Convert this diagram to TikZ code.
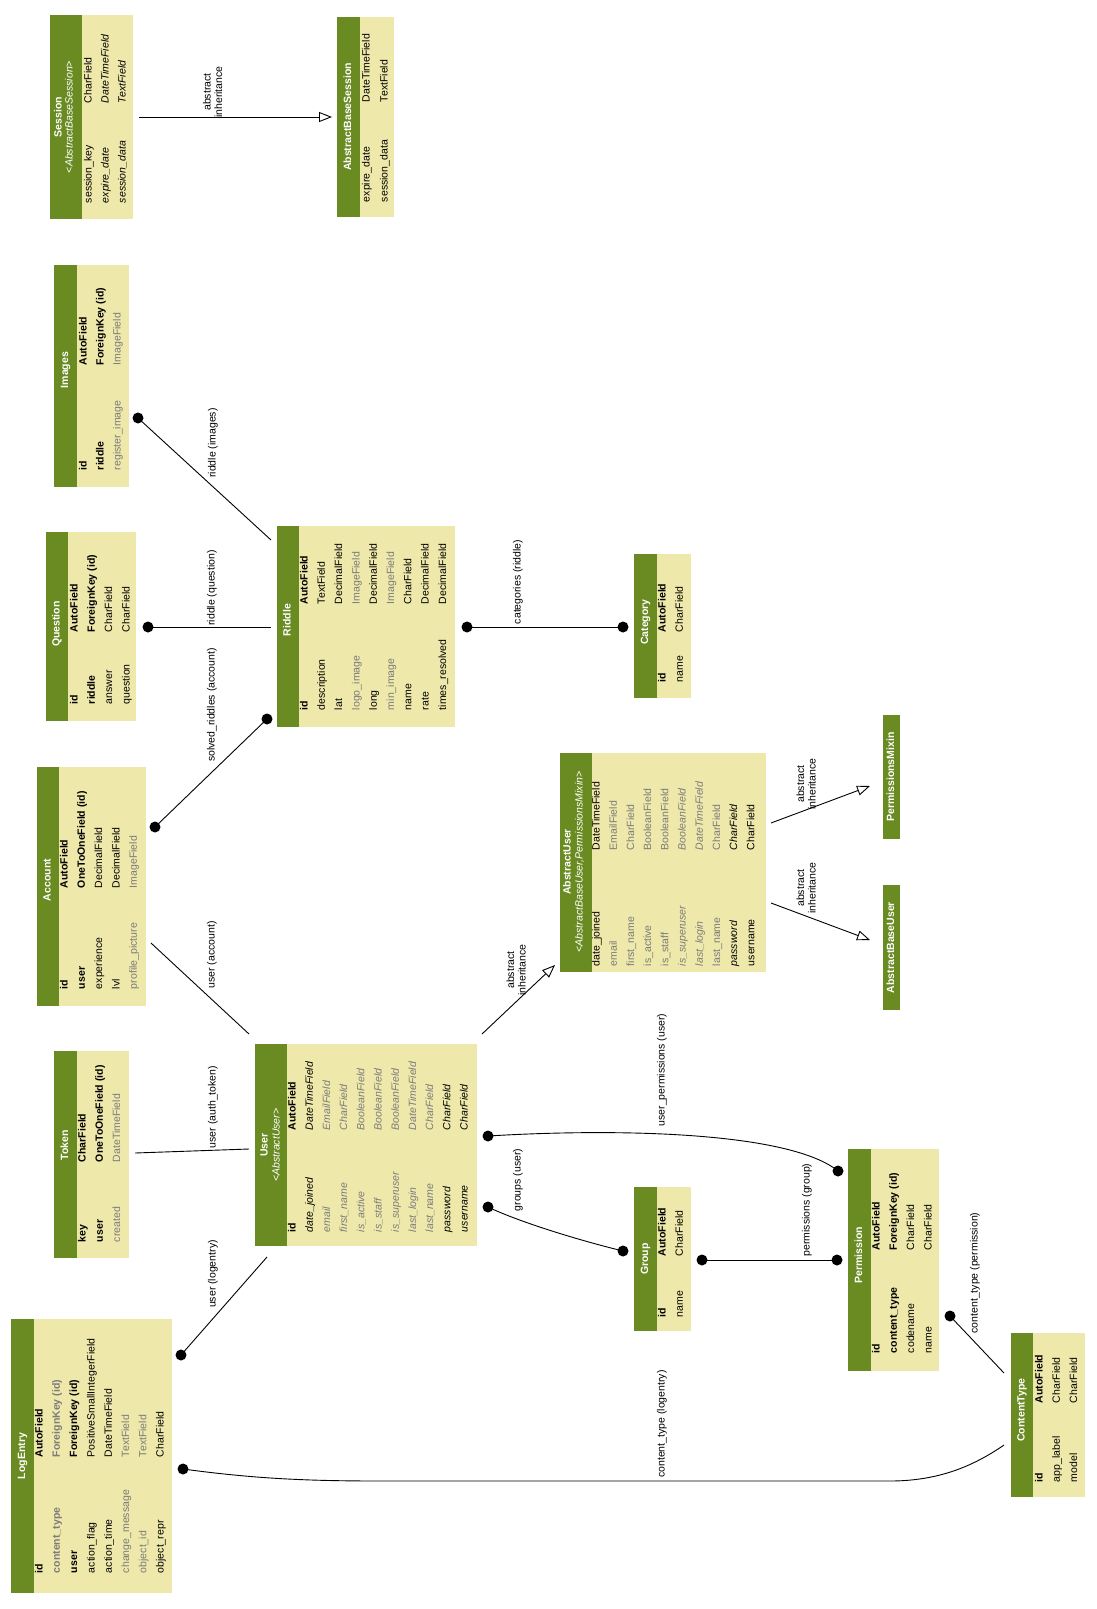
\documentclass[tikz,border=0pt]{standalone}
\usepackage{fontspec}
\setmainfont{Liberation Sans}
\usetikzlibrary{arrows.meta}
\definecolor{hdr}{HTML}{698B22}
\definecolor{bdy}{HTML}{EEE8AA}
\definecolor{gtx}{HTML}{7B7B7B}
\newcommand\fs{\fontsize{10.5}{11.5}\selectfont}
\tikzset{
  fl/.style={rotate=90, anchor=west, inner sep=0pt, outer sep=0pt, text height=7.6pt, text depth=2.4pt},
  tn/.style={font=\fs},
  tb/.style={font=\fs\bfseries},
  tg/.style={font=\fs, text=gtx},
  tgb/.style={font=\fs\bfseries, text=gtx},
  ti/.style={font=\fs\itshape},
  tgi/.style={font=\fs\itshape, text=gtx},
  ttl/.style={rotate=90, inner sep=0pt, text=white, font=\fs\bfseries, text height=7.6pt, text depth=2.4pt},
  sttl/.style={rotate=90, inner sep=0pt, text=white, font=\fs\itshape, text height=7.6pt, text depth=2.4pt},
  lbl/.style={rotate=90, inner sep=0pt, align=center, font=\fs},
  edge/.style={line width=0.9pt, black},
  inh/.style={line width=0.9pt, black, -{Triangle[open, length=13pt, width=10pt, line width=0.9pt]}},
  bodybox/.style={fill=bdy, draw=none, inner sep=0pt, outer sep=0pt}
}
% name, x0, y0, x1, y1, header right edge
\newcommand\mtable[6]{%
  \node[bodybox, minimum width={(#4-#2)*1pt}, minimum height={(#5-#3)*1pt}] (#1) at ({(#2+#4)/2},{(#3+#5)/2}) {};
  \fill[hdr] (#2,#3) rectangle (#6,#5);}
% style, x, yname, ytype, name, type
\newcommand\fieldrow[6]{%
  \node[fl,#1] at (#2,#3) {#5};
  \node[fl,#1] at (#2,#4) {#6};}
\newcommand\edot[1]{\fill[black] (#1) circle[radius=5.5pt];}
\begin{document}
\begin{tikzpicture}[x=1pt,y=-1pt]
\fill[white] (0,0) rectangle (1096,1609);
\useasboundingbox (0,0) rectangle (1096,1609);

% ---------- LogEntry
\mtable{logentry}{11}{1319}{172}{1593}{34}
\node[ttl] (logentryT) at (22.5,1456) {LogEntry};
\fieldrow{tb}{40}{1573}{1457}{id}{AutoField}
\fieldrow{tgb}{57.3}{1573}{1457}{content\_type}{ForeignKey (id)}
\fieldrow{tb}{74.6}{1573}{1457}{user}{ForeignKey (id)}
\fieldrow{tn}{91.9}{1573}{1457}{action\_flag}{PositiveSmallIntegerField}
\fieldrow{tn}{109.2}{1573}{1457}{action\_time}{DateTimeField}
\fieldrow{tg}{126.5}{1573}{1457}{change\_message}{TextField}
\fieldrow{tg}{143.8}{1573}{1457}{object\_id}{TextField}
\fieldrow{tn}{161.1}{1573}{1457}{object\_repr}{CharField}

% ---------- Session
\mtable{session}{50}{15}{133}{219}{82}
\node[ttl] (sessionT) at (59,117) {Session};
\node[sttl] (sessionS) at (70,117) {<AbstractBaseSession>};
\fieldrow{tn}{89}{203}{103}{session\_key}{CharField}
\fieldrow{ti}{106}{203}{103}{expire\_date}{DateTimeField}
\fieldrow{ti}{123}{203}{103}{session\_data}{TextField}

% ---------- AbstractBaseSession
\mtable{abstractsession}{337}{17}{394}{217}{360}
\node[ttl] (abstractsessionT) at (348.5,117) {AbstractBaseSession};
\fieldrow{tn}{367}{202}{102}{expire\_date}{DateTimeField}
\fieldrow{tn}{385}{202}{102}{session\_data}{TextField}

% ---------- Images
\mtable{images}{54}{265}{129}{487}{77}
\node[ttl] (imagesT) at (65.5,370) {Images};
\fieldrow{tb}{84}{470}{365}{id}{AutoField}
\fieldrow{tb}{101}{470}{365}{riddle}{ForeignKey (id)}
\fieldrow{tg}{118}{470}{365}{register\_image}{ImageField}

% ---------- Question
\mtable{question}{46}{532}{136}{721}{68}
\node[ttl] (questionT) at (57,624) {Question};
\fieldrow{tb}{75}{704}{632}{id}{AutoField}
\fieldrow{tb}{92.3}{704}{632}{riddle}{ForeignKey (id)}
\fieldrow{tn}{109.6}{704}{632}{answer}{CharField}
\fieldrow{tn}{126.9}{704}{632}{question}{CharField}

% ---------- Riddle
\mtable{riddle}{277}{526}{455}{727}{299}
\node[ttl] (riddleT) at (288,620) {Riddle};
\fieldrow{tb}{305}{710}{604}{id}{AutoField}
\fieldrow{tn}{322.3}{710}{604}{description}{TextField}
\fieldrow{tn}{339.6}{710}{604}{lat}{DecimalField}
\fieldrow{tg}{356.9}{710}{604}{logo\_image}{ImageField}
\fieldrow{tn}{374.2}{710}{604}{long}{DecimalField}
\fieldrow{tg}{391.5}{710}{604}{min\_image}{ImageField}
\fieldrow{tn}{408.8}{710}{604}{name}{CharField}
\fieldrow{tn}{426.1}{710}{604}{rate}{DecimalField}
\fieldrow{tn}{443.4}{710}{604}{times\_resolved}{DecimalField}

% ---------- Category
\mtable{category}{634}{554}{691}{698}{657}
\node[ttl] (categoryT) at (645.5,622) {Category};
\fieldrow{tb}{663}{682}{632}{id}{AutoField}
\fieldrow{tn}{680.3}{682}{632}{name}{CharField}

% ---------- Account
\mtable{account}{37}{767}{146}{1006}{59}
\node[ttl] (accountT) at (48,880) {Account};
\fieldrow{tb}{65}{989}{888}{id}{AutoField}
\fieldrow{tb}{82.3}{989}{888}{user}{OneToOneField (id)}
\fieldrow{tn}{99.6}{989}{888}{experience}{DecimalField}
\fieldrow{tn}{116.9}{989}{888}{lvl}{DecimalField}
\fieldrow{tg}{134.2}{989}{888}{profile\_picture}{ImageField}

% ---------- Token
\mtable{token}{54}{1051}{129}{1258}{77}
\node[ttl] (tokenT) at (65.5,1145) {Token};
\fieldrow{tb}{83}{1242}{1162}{key}{CharField}
\fieldrow{tb}{100.3}{1242}{1162}{user}{OneToOneField (id)}
\fieldrow{tg}{117.6}{1242}{1162}{created}{DateTimeField}

% ---------- User
\mtable{user}{255}{1044}{477}{1246}{287}
\node[ttl] (userT) at (265,1145) {User};
\node[sttl] (userS) at (277,1145) {<AbstractUser>};
\fieldrow{tb}{293}{1232}{1130}{id}{AutoField}
\fieldrow{ti}{310.2}{1232}{1130}{date\_joined}{DateTimeField}
\fieldrow{tgi}{327.4}{1232}{1130}{email}{EmailField}
\fieldrow{tgi}{344.6}{1232}{1130}{first\_name}{CharField}
\fieldrow{tgi}{361.8}{1232}{1130}{is\_active}{BooleanField}
\fieldrow{tgi}{379}{1232}{1130}{is\_staff}{BooleanField}
\fieldrow{tgi}{396.2}{1232}{1130}{is\_superuser}{BooleanField}
\fieldrow{tgi}{413.4}{1232}{1130}{last\_login}{DateTimeField}
\fieldrow{tgi}{430.6}{1232}{1130}{last\_name}{CharField}
\fieldrow{ti}{447.8}{1232}{1130}{password}{CharField}
\fieldrow{ti}{465}{1232}{1130}{username}{CharField}

% ---------- AbstractUser
\mtable{abstractuser}{560}{753}{766}{972}{592}
\node[ttl] (abstractuserT) at (568,862) {AbstractUser};
\node[sttl] (abstractuserS) at (580,862) {<AbstractBaseUser,PermissionsMixin>};
\fieldrow{tn}{597}{966}{850}{date\_joined}{DateTimeField}
\fieldrow{tg}{614.2}{966}{850}{email}{EmailField}
\fieldrow{tg}{631.4}{966}{850}{first\_name}{CharField}
\fieldrow{tg}{648.6}{966}{850}{is\_active}{BooleanField}
\fieldrow{tg}{665.8}{966}{850}{is\_staff}{BooleanField}
\fieldrow{tgi}{683}{966}{850}{is\_superuser}{BooleanField}
\fieldrow{tgi}{700.2}{966}{850}{last\_login}{DateTimeField}
\fieldrow{tg}{717.4}{966}{850}{last\_name}{CharField}
\fieldrow{ti}{734.6}{966}{850}{password}{CharField}
\fieldrow{tn}{751.8}{966}{850}{username}{CharField}

% ---------- PermissionsMixin / AbstractBaseUser
\mtable{permmixin}{883}{715}{900}{839}{900}
\node[ttl] (permmixinT) at (891.5,777) {PermissionsMixin};
\mtable{abstractbaseuser}{883}{885}{900}{1010}{900}
\node[ttl] (abstractbaseuserT) at (891.5,947.5) {AbstractBaseUser};

% ---------- Group
\mtable{group}{634}{1187}{691}{1331}{657}
\node[ttl] (groupT) at (645.5,1259) {Group};
\fieldrow{tb}{663}{1317}{1256}{id}{AutoField}
\fieldrow{tn}{680.3}{1317}{1256}{name}{CharField}

% ---------- Permission
\mtable{permission}{848}{1149}{939}{1371}{871}
\node[ttl] (permissionT) at (859.5,1255) {Permission};
\fieldrow{tb}{877}{1353}{1250}{id}{AutoField}
\fieldrow{tb}{894.3}{1353}{1250}{content\_type}{ForeignKey (id)}
\fieldrow{tn}{911.6}{1353}{1250}{codename}{CharField}
\fieldrow{tn}{928.9}{1353}{1250}{name}{CharField}

% ---------- ContentType
\mtable{contenttype}{1011}{1333}{1085}{1497}{1033}
\node[ttl] (contenttypeT) at (1022,1410) {ContentType};
\fieldrow{tb}{1040}{1482}{1403}{id}{AutoField}
\fieldrow{tn}{1057.3}{1482}{1403}{app\_label}{CharField}
\fieldrow{tn}{1074.6}{1482}{1403}{model}{CharField}

% ---------- connector end points
\coordinate (sesA) at (139,117);   \coordinate (absB) at (332,117);
\coordinate (imgA) at (138,418);   \coordinate (ridA) at (271,540);
\coordinate (queA) at (148,627);   \coordinate (ridB) at (271,627);
\coordinate (accA) at (155,827);   \coordinate (ridC) at (267,719);
\coordinate (ridD) at (467,627);   \coordinate (catA) at (623,627);
\coordinate (accB) at (151,943);   \coordinate (usrA) at (249,1034);
\coordinate (tokA) at (135,1153);  \coordinate (usrB) at (249,1149);
\coordinate (logA) at (181,1355);  \coordinate (usrC) at (267,1257);
\coordinate (usrD) at (482,1034);  \coordinate (ausA) at (555,965);
\coordinate (usrE) at (488,1207);  \coordinate (grpA) at (623,1251);
\coordinate (usrF) at (488,1136);  \coordinate (perA) at (838,1171);
\coordinate (grpB) at (702,1260);  \coordinate (perB) at (837,1260);
\coordinate (ausB) at (771,823);   \coordinate (pmxA) at (870,786);
\coordinate (ausC) at (771,903);   \coordinate (abuA) at (870,940);
\coordinate (perC) at (950,1316);  \coordinate (ctyA) at (1004,1373);
\coordinate (logB) at (183,1469);  \coordinate (ctyB) at (1004,1445);

% ---------- connectors
\draw[inh] (sesA) -- (absB);
\node[lbl] (l1) at (212.5,92) {abstract\\inheritance};

\draw[edge] (imgA) -- (ridA); \edot{imgA}
\node[lbl] (l2) at (213,443) {riddle (images)};

\draw[edge] (queA) -- (ridB); \edot{queA}
\node[lbl] (l3) at (212,588) {riddle (question)};

\draw[edge] (accA) -- (ridC); \edot{accA} \edot{ridC}
\node[lbl] (l4) at (212,705) {solved\_riddles (account)};

\draw[edge] (ridD) -- (catA); \edot{ridD} \edot{catA}
\node[lbl] (l5) at (518,582) {categories (riddle)};

\draw[edge] (accB) -- (usrA);
\node[lbl] (l6) at (212,955) {user (account)};

\draw[edge] (tokA) -- (usrB);
\node[lbl] (l7) at (213,1107) {user (auth\_token)};

\draw[edge] (logA) -- (usrC); \edot{logA}
\node[lbl] (l8) at (213,1274) {user (logentry)};

\draw[inh] (usrD) -- (ausA);
\node[lbl] (l9) at (516,970) {abstract\\inheritance};

\draw[edge] (usrE) .. controls (515,1220) and (570,1238) .. (grpA); \edot{usrE} \edot{grpA}
\node[lbl] (l10) at (518,1180) {groups (user)};

\draw[edge] (usrF) .. controls (620,1128) and (790,1132) .. (perA); \edot{usrF} \edot{perA}
\node[lbl] (l11) at (662,1070) {user\_permissions (user)};

\draw[edge] (grpB) -- (perB); \edot{grpB} \edot{perB}
\node[lbl] (l12) at (807,1210) {permissions (group)};

\draw[inh] (ausB) -- (pmxA);
\node[lbl] (l13) at (806,784) {abstract\\inheritance};

\draw[inh] (ausC) -- (abuA);
\node[lbl] (l14) at (806,888) {abstract\\inheritance};

\draw[edge] (perC) -- (ctyA); \edot{perC}
\node[lbl] (l15) at (975,1273) {content\_type (permission)};

\draw[edge] (logB) .. controls (250,1478) and (300,1481) .. (380,1481) -- (890,1481) .. controls (940,1481) and (975,1465) .. (ctyB); \edot{logB}
\node[lbl] (l16) at (662,1424) {content\_type (logentry)};
\end{tikzpicture}
\end{document}
